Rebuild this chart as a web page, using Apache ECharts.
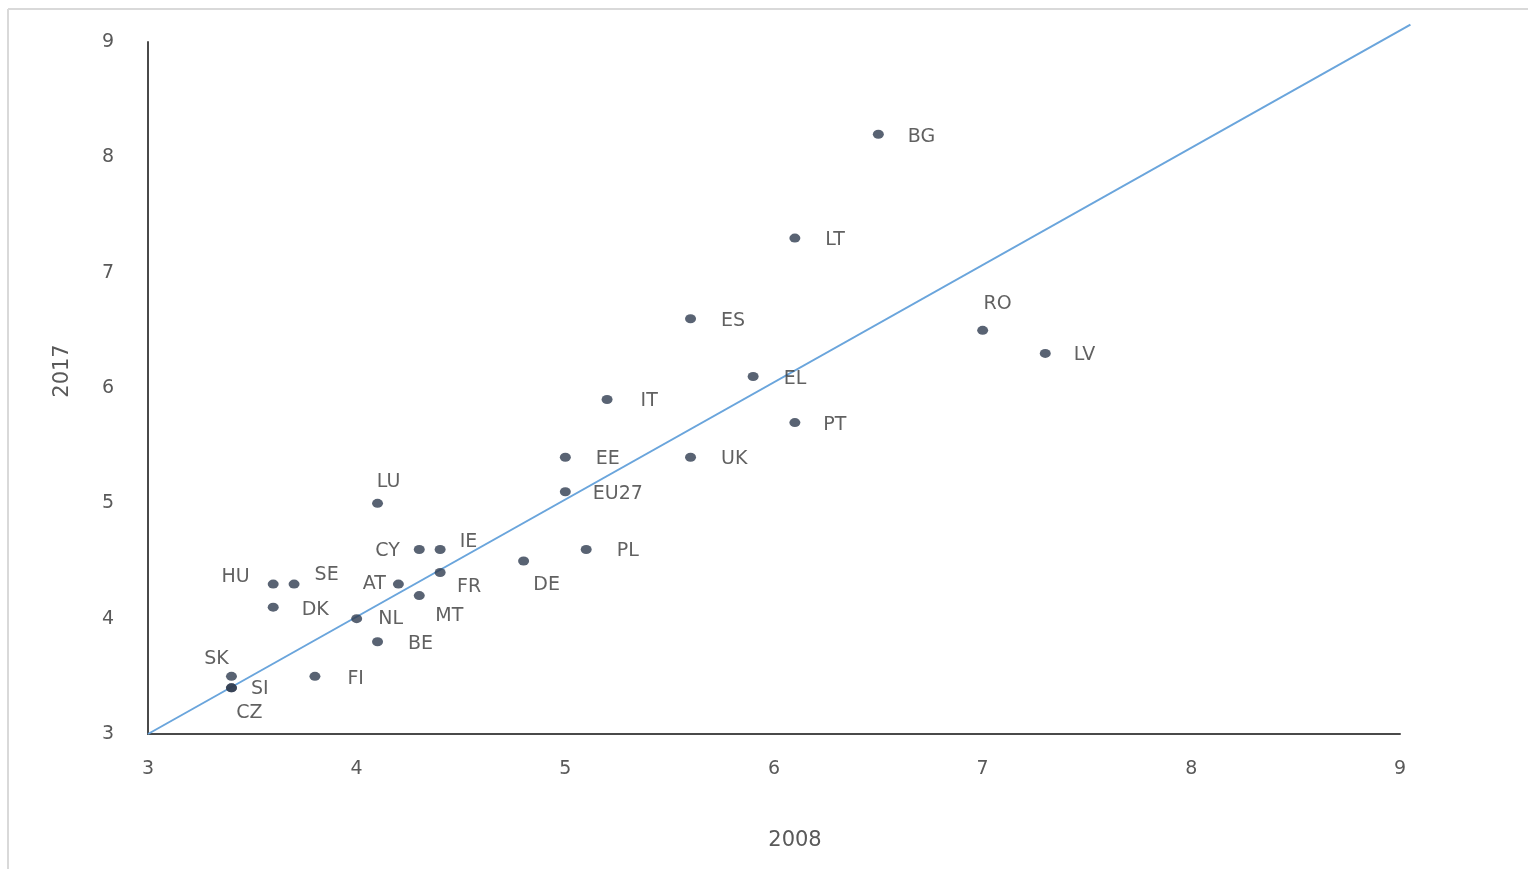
<!DOCTYPE html>
<html>
<head>
<meta charset="utf-8">
<script src="https://cdn.jsdelivr.net/npm/echarts@6/dist/echarts.min.js"></script>
<style>html,body{margin:0;padding:0;background:#fff}#c{width:1528px;height:869px}</style>
</head>
<body>
<div id="c"></div>
<script>
// Data
var countries = ['BG','LT','ES','RO','LV','EL','IT','PT','EE','UK','EU27','LU','PL','DE','CY','IE','FR','HU','SE','AT','MT','DK','NL','BE','SK','FI','SI','CZ'];
var values2008 = [6.5, 6.1, 5.6, 7.0, 7.3, 5.9, 5.2, 6.1, 5.0, 5.6, 5.0, 4.1, 5.1, 4.8, 4.3, 4.4, 4.4, 3.6, 3.7, 4.2, 4.3, 3.6, 4.0, 4.1, 3.4, 3.8, 3.4, 3.4];
var values2017 = [8.2, 7.3, 6.6, 6.5, 6.3, 6.1, 5.9, 5.7, 5.4, 5.4, 5.1, 5.0, 4.6, 4.5, 4.6, 4.6, 4.4, 4.3, 4.3, 4.3, 4.2, 4.1, 4.0, 3.8, 3.5, 3.5, 3.4, 3.4];
var refLineX = [3, 9.05];
var refLineY = [3, 9.15];
var axisTicks = [3, 4, 5, 6, 7, 8, 9];

// Label placement (layout only)
var labelPlace = {
  BG: {position: 'right', offset: [4, 3]},
  LT: {position: 'right', offset: [5, 2]},
  ES: {position: 'right', offset: [5, 2]},
  RO: {position: 'top', offset: [15, 8]},
  LV: {position: 'right', offset: [3, 2]},
  EL: {position: 'right', offset: [5, 3]},
  IT: {position: 'right', offset: [8, 2]},
  PT: {position: 'right', offset: [3, 2]},
  EE: {position: 'right', offset: [5, 2]},
  UK: {position: 'right', offset: [5, 2]},
  EU27: {position: 'right', offset: [2, 2]},
  LU: {position: 'top', offset: [11, 13]},
  PL: {position: 'right', offset: [5, 2]},
  DE: {position: 'bottom', offset: [23, -10]},
  CY: {position: 'left', offset: [6, 2]},
  IE: {position: 'right', offset: [-6, -7]},
  FR: {position: 'bottom', offset: [29, -19]},
  HU: {position: 'left', offset: [2, -7]},
  SE: {position: 'right', offset: [-5, -9]},
  AT: {position: 'left', offset: [13, 0]},
  MT: {position: 'bottom', offset: [30, -14]},
  DK: {position: 'right', offset: [3, 3]},
  NL: {position: 'right', offset: [-4, 0]},
  BE: {position: 'right', offset: [5, 2]},
  SK: {position: 'top', offset: [-15, 17]},
  FI: {position: 'right', offset: [7, 3]},
  SI: {position: 'right', offset: [-6, 1]},
  CZ: {position: 'bottom', offset: [18, -9]}
};

var pts = countries.map(function (c, i) {
  var p = labelPlace[c] || {position: 'right', offset: [6, 2]};
  return {name: c, value: [values2008[i], values2017[i]], label: {position: p.position, offset: p.offset}};
});

var FONT = 'DejaVu Sans';
var chart = echarts.init(document.getElementById('c'), null, {renderer: 'canvas'});
var axisLabelStyle = {color: '#595959', fontSize: 19, fontFamily: FONT};
chart.setOption({
  animation: false,
  backgroundColor: '#ffffff',
  grid: {left: 148, right: 128, top: 42, bottom: 135},
  xAxis: {
    type: 'value', min: axisTicks[0], max: axisTicks[axisTicks.length - 1], interval: 1,
    name: '2008', nameLocation: 'middle', nameGap: 96,
    nameTextStyle: {color: '#595959', fontSize: 21, fontFamily: FONT, padding: [0, 0, 0, 42]},
    axisLine: {show: true, lineStyle: {color: '#4a4a4a', width: 2}},
    axisTick: {show: false}, splitLine: {show: false},
    axisLabel: Object.assign({}, axisLabelStyle, {margin: 26})
  },
  yAxis: {
    type: 'value', min: axisTicks[0], max: axisTicks[axisTicks.length - 1], interval: 1,
    name: '2017', nameLocation: 'middle', nameGap: 75, nameRotate: 90,
    nameTextStyle: {color: '#595959', fontSize: 21, fontFamily: FONT, padding: [0, 0, 0, 34]},
    axisLine: {show: true, lineStyle: {color: '#4a4a4a', width: 2}},
    axisTick: {show: false}, splitLine: {show: false},
    axisLabel: Object.assign({}, axisLabelStyle, {margin: 34})
  },
  graphic: [
    {type: 'line', shape: {x1: 8, y1: 9, x2: 8, y2: 869}, style: {stroke: '#d9d9d9', lineWidth: 2}, silent: true},
    {type: 'line', shape: {x1: 8, y1: 9, x2: 1528, y2: 9}, style: {stroke: '#d9d9d9', lineWidth: 2}, silent: true}
  ],
  series: [
    {
      type: 'custom', silent: true, clip: false, z: 1,
      data: [[refLineX[0], refLineY[0], refLineX[1], refLineY[1]]],
      encode: {x: [0, 2], y: [1, 3]},
      renderItem: function (params, api) {
        var p1 = api.coord([api.value(0), api.value(1)]);
        var p2 = api.coord([api.value(2), api.value(3)]);
        return {type: 'line', shape: {x1: p1[0], y1: p1[1], x2: p2[0], y2: p2[1]},
                style: {stroke: '#6aa5dc', lineWidth: 2}};
      }
    },
    {
      type: 'scatter', symbol: 'circle', symbolSize: [11, 9],
      itemStyle: {color: '#2f3c50'},
      data: pts, z: 3,
      label: {show: true, formatter: '{b}', color: '#3a3a3a', fontSize: 19, fontFamily: FONT, distance: 20}
    }
  ]
});
</script>
</body>
</html>
